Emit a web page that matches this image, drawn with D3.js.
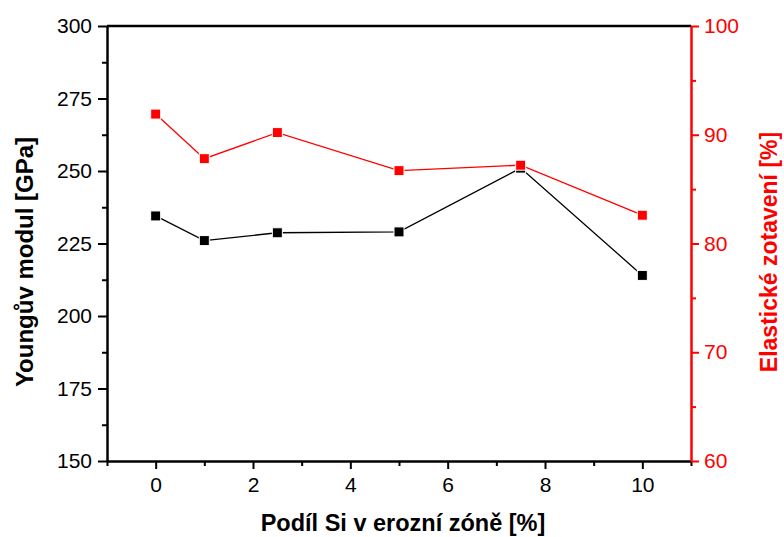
<!DOCTYPE html>
<html>
<head>
<meta charset="utf-8">
<script src="https://cdn.jsdelivr.net/npm/d3@7"></script>
<style>
  body { margin: 0; background: #fff; }
  text { font-family: "Liberation Sans", Arial, sans-serif; }
</style>
</head>
<body>
<div id="chart"></div>
<script>
// Data
var siShare = [0, 1, 2.5, 5, 7.5, 10];
var youngModulus = [234.5, 226, 228.7, 229, 251, 214];
var elasticRecovery = [91.9, 87.8, 90.2, 86.7, 87.2, 82.6];

var xTicks = [0, 2, 4, 6, 8, 10];
var leftTicks = [150, 175, 200, 225, 250, 275, 300];
var rightTicks = [60, 70, 80, 90, 100];

var svgWidth = 784;
var svgHeight = 537;
var margin = { top: 26, right: 93, bottom: 76, left: 107 };
var width = svgWidth - margin.left - margin.right;
var height = svgHeight - margin.top - margin.bottom;

var svg = d3.select("#chart").append("svg")
  .attr("width", svgWidth)
  .attr("height", svgHeight);

var g = svg.append("g")
  .attr("transform", `translate(${margin.left}, ${margin.top})`);

var x = d3.scaleLinear().domain([-1, 11]).range([0, width]);
var yLeft = d3.scaleLinear().domain([150, 300]).range([height, 0]);
var yRight = d3.scaleLinear().domain([60, 100]).range([height, 0]);

// minor ticks first
g.append("g")
  .attr("transform", `translate(0, ${height})`)
  .call(d3.axisBottom(x).tickValues([-1, 1, 3, 5, 7, 9, 11]).tickSize(5).tickFormat(""))
  .call(a => a.select(".domain").remove())
  .call(a => a.selectAll("line").attr("stroke-width", 2));
g.append("g")
  .call(d3.axisLeft(yLeft).tickValues(d3.range(162.5, 300, 25)).tickSize(5).tickFormat(""))
  .call(a => a.select(".domain").remove())
  .call(a => a.selectAll("line").attr("stroke-width", 2));
g.append("g")
  .attr("transform", `translate(${width}, 0)`)
  .call(d3.axisRight(yRight).tickValues(d3.range(65, 100, 10)).tickSize(5).tickFormat(""))
  .call(a => a.select(".domain").remove())
  .call(a => a.selectAll("line").attr("stroke", "#f00").attr("stroke-width", 2));

// x axis
g.append("g")
  .attr("transform", `translate(0, ${height})`)
  .call(d3.axisBottom(x).tickValues(xTicks).tickSize(8).tickPadding(8).tickSizeOuter(0))
  .call(a => a.select(".domain").attr("stroke-width", 2.5))
  .call(a => a.selectAll("line").attr("stroke-width", 2))
  .call(a => a.selectAll("text").attr("font-size", 21).attr("fill", "#000"));

// left axis
g.append("g")
  .call(d3.axisLeft(yLeft).tickValues(leftTicks).tickSize(9).tickPadding(6).tickSizeOuter(0))
  .call(a => a.select(".domain").attr("stroke-width", 2.5))
  .call(a => a.selectAll("line").attr("stroke-width", 2))
  .call(a => a.selectAll("text").attr("font-size", 21).attr("fill", "#000"));

// top frame
g.append("line")
  .attr("x1", 0).attr("x2", width)
  .attr("y1", 0).attr("y2", 0)
  .attr("stroke", "#000").attr("stroke-width", 2.5);

// right axis (red)
g.append("g")
  .attr("transform", `translate(${width}, 0)`)
  .call(d3.axisRight(yRight).tickValues(rightTicks).tickSize(8).tickPadding(5).tickSizeOuter(0))
  .call(a => a.select(".domain").attr("stroke", "#f00").attr("stroke-width", 2.5))
  .call(a => a.selectAll("line").attr("stroke", "#f00").attr("stroke-width", 2))
  .call(a => a.selectAll("text").attr("font-size", 21).attr("fill", "#f00"));

// series
function drawSeries(values, yScale, color) {
  var pts = siShare.map((d, i) => [d, values[i]]);
  g.append("path")
    .datum(pts)
    .attr("fill", "none")
    .attr("stroke", color)
    .attr("stroke-width", 1.3)
    .attr("d", d3.line().x(d => x(d[0])).y(d => yScale(d[1])));
  g.selectAll(null)
    .data(pts)
    .enter()
    .append("rect")
    .attr("x", d => x(d[0]) - 5)
    .attr("y", d => yScale(d[1]) - 5)
    .attr("width", 10)
    .attr("height", 10)
    .attr("fill", color)
    .attr("stroke", "#fff")
    .attr("stroke-width", 1);
}
drawSeries(youngModulus, yLeft, "#000");
drawSeries(elasticRecovery, yRight, "#f00");

// axis titles
svg.append("text")
  .attr("x", 403)
  .attr("y", 531)
  .attr("text-anchor", "middle")
  .attr("font-size", 23.5)
  .attr("font-weight", "bold")
  .text("Podíl Si v erozní zóně [%]");

svg.append("text")
  .attr("transform", "translate(33, 262) rotate(-90)")
  .attr("text-anchor", "middle")
  .attr("font-size", 24)
  .attr("font-weight", "bold")
  .text("Youngův modul [GPa]");

svg.append("text")
  .attr("transform", "translate(777, 252) rotate(-90)")
  .attr("text-anchor", "middle")
  .attr("font-size", 23)
  .attr("font-weight", "bold")
  .attr("fill", "#f00")
  .text("Elastické zotavení [%]");
</script>
</body>
</html>
